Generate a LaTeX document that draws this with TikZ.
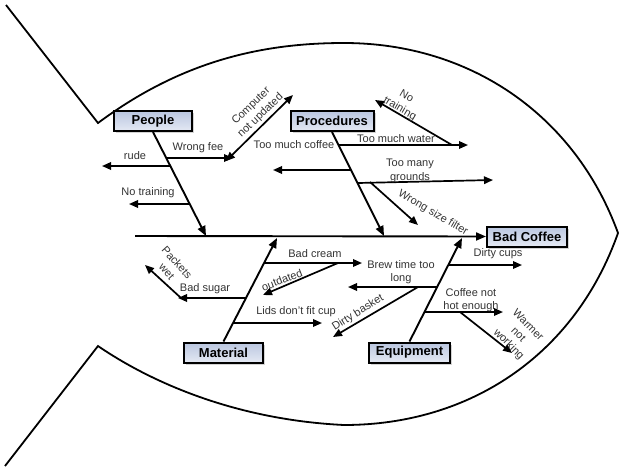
\documentclass[tikz,border=0pt]{standalone}
\usepackage{fontspec}
\setmainfont{Liberation Sans}
\usetikzlibrary{calc,arrows.meta,shadows}
\definecolor{boxtop}{RGB}{186,198,224}
\definecolor{boxbot}{RGB}{228,233,244}
\tikzset{
	fish/.style={line width=1.8pt},
	bone/.style={line width=1.9pt,-{Triangle[length=10pt,width=8pt]}},
	twig/.style={line width=1.7pt,-{Triangle[length=9pt,width=7.5pt]}},
	cat/.style={draw,line width=2pt,top color=boxtop,bottom color=boxbot,minimum height=20pt,inner sep=0pt,
		font=\fontsize{13}{15}\selectfont\bfseries,drop shadow={shadow xshift=2pt,shadow yshift=-2pt,opacity=.35}},
	txt/.style={font=\fontsize{11}{13.5}\selectfont,text=black!80,inner sep=0pt,align=center},
}

\begin{document}
\begin{tikzpicture}[x=1pt,y=-1pt]
	%%%%% START %%%%%
	\useasboundingbox (0,0) rectangle (628,471);
	\draw[fish] (6,5) -- (98,123) .. controls (180,62) and (260,43) .. (344,43)
		.. controls (470,43) and (575,115) .. (618,233)
		.. controls (575,355) and (470,425) .. (344,425)
		.. controls (240,420) and (155,385) .. (98,346) -- (5,466);

	\node[cat,minimum width=78pt] (people) at (153,121) {People};
	\node[cat,minimum width=83pt] (proc) at (332,121) {Procedures};
	\node[cat,minimum width=79pt] (material) at (223.5,352.5) {Material};
	\node[cat,minimum width=81pt] (equip) at (409.5,352.5) {Equipment};
	\node[cat,minimum width=80pt] (bad) at (527,236.5) {Bad Coffee};

	\coordinate (tail) at (135,236);
	\coordinate (pe) at (206,236);
	\coordinate (pr) at (384,236);
	\coordinate (ma) at (277,238);
	\coordinate (eq) at (462,238);
	\draw[bone] (tail) -- (bad.west);
	\draw[bone] (people.south) -- (pe);
	\draw[bone] (proc.south) -- (pr);
	\draw[bone] (material.north) -- (ma);
	\draw[bone] (equip.north) -- (eq);

	% people
	\coordinate (wf0) at (167,158); \coordinate (wf1) at (233,158);
	\coordinate (cu0) at (226,161); \coordinate (cu1) at (293,95);
	\coordinate (ru0) at (170,166); \coordinate (ru1) at (102,166);
	\coordinate (nt0) at (189,204); \coordinate (nt1) at (129,204);
	\draw[twig] (wf0) -- (wf1);
	\draw[twig,{Triangle[length=9pt,width=7.5pt]}-{Triangle[length=9pt,width=7.5pt]}] (cu0) -- (cu1);
	\draw[twig] (ru0) -- (ru1);
	\draw[twig] (nt0) -- (nt1);
	\node[txt] (lwf) at (198,148) {Wrong fee};
	\node[txt,rotate=44] (lcu) at (256,111) {Computer\\not updated};
	\node[txt] (lru) at (135,156) {rude};
	\node[txt] (lnt) at (148,193) {No training};

	% procedures
	\coordinate (tw0) at (339,145); \coordinate (tw1) at (468,145);
	\coordinate (np0) at (452,145); \coordinate (np1) at (375,100);
	\coordinate (lf0) at (351,170); \coordinate (lf1) at (273,170);
	\coordinate (tg0) at (358,183); \coordinate (tg1) at (493,180);
	\coordinate (ws0) at (370,182); \coordinate (ws1) at (418,225);
	\draw[twig] (tw0) -- (tw1);
	\draw[twig] (np0) -- (np1);
	\draw[twig] (lf0) -- (lf1);
	\draw[twig] (tg0) -- (tg1);
	\draw[twig] (ws0) -- (ws1);
	\node[txt] (ltc) at (294,145) {Too much coffee};
	\node[txt] (ltw) at (396,139) {Too much water};
	\node[txt,rotate=-30] (lnp) at (403,103) {No\\training};
	\node[txt] (ltg) at (410,171) {Too many\\grounds};
	\node[txt,rotate=-30] (lws) at (433,213) {Wrong size filter};

	% material
	\coordinate (bc0) at (264,263); \coordinate (bc1) at (362,263);
	\coordinate (od0) at (338,263); \coordinate (od1) at (263,295);
	\coordinate (bs0) at (246,298); \coordinate (bs1) at (178,298);
	\coordinate (pw0) at (181,298); \coordinate (pw1) at (145,265);
	\coordinate (ld0) at (234,323); \coordinate (ld1) at (322,323);
	\draw[twig] (bc0) -- (bc1);
	\draw[twig] (od0) -- (od1);
	\draw[twig] (bs0) -- (bs1);
	\draw[twig] (pw0) -- (pw1);
	\draw[twig] (ld0) -- (ld1);
	\node[txt] (lbc) at (315,254) {Bad cream};
	\node[txt,rotate=21] (lod) at (282,280) {outdated};
	\node[txt] (lbs) at (205,289) {Bad sugar};
	\node[txt,rotate=-48] (lpw) at (172,267) {Packets\\wet};
	\node[txt] (lld) at (296,312) {Lids don't fit cup};

	% equipment
	\coordinate (dc0) at (449,265); \coordinate (dc1) at (522,265);
	\coordinate (bt0) at (438,287); \coordinate (bt1) at (348,287);
	\coordinate (db0) at (418,287); \coordinate (db1) at (333,337);
	\coordinate (cn0) at (425,312); \coordinate (cn1) at (503,312);
	\coordinate (wn0) at (460,312); \coordinate (wn1) at (512,353);
	\draw[twig] (dc0) -- (dc1);
	\draw[twig] (bt0) -- (bt1);
	\draw[twig] (db0) -- (db1);
	\draw[twig] (cn0) -- (cn1);
	\draw[twig] (wn0) -- (wn1);
	\node[txt] (ldc) at (498,254) {Dirty cups};
	\node[txt] (lbt) at (401,272) {Brew time too\\long};
	\node[txt,rotate=32] (ldb) at (358,313) {Dirty basket};
	\node[txt] (lcn) at (471,300) {Coffee not\\hot enough};
	\node[txt,rotate=-45] (lwn) at (518,335) {Warmer\\not\\working};
	%%%%% END %%%%%
\end{tikzpicture}
\end{document}
